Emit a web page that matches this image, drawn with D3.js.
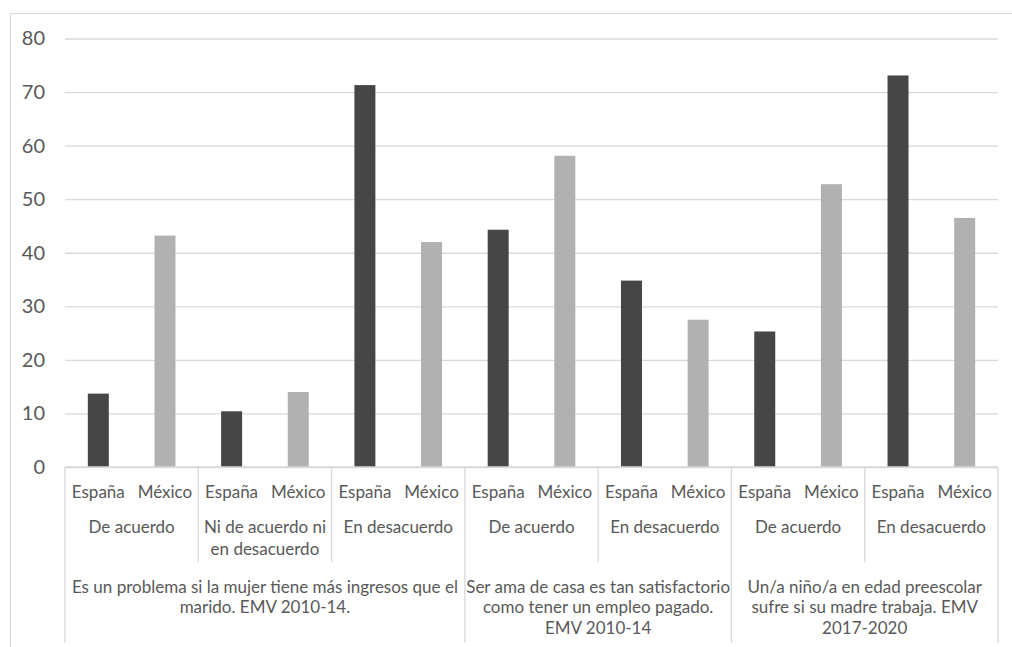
<!DOCTYPE html>
<html>
<head>
<meta charset="utf-8">
<script src="https://cdn.jsdelivr.net/npm/d3@7"></script>
<style>
  body { margin: 0; background: #fff; }
  text { font-family: Lato, "Open Sans", sans-serif; fill: #595959; }
</style>
</head>
<body>
<div id="plot"></div>
<script>
// data
const countries = ["España", "México"];
const responses = ["De acuerdo", "Ni de acuerdo ni\nen desacuerdo", "En desacuerdo",
                   "De acuerdo", "En desacuerdo", "De acuerdo", "En desacuerdo"];
const questions = ["Es un problema si la mujer tiene más ingresos que el\nmarido. EMV 2010-14.",
                   "Ser ama de casa es tan satisfactorio\ncomo tener un empleo pagado.\nEMV 2010-14",
                   "Un/a niño/a en edad preescolar\nsufre si su madre trabaja. EMV\n2017-2020"];
const questionOf = [0, 0, 0, 1, 1, 2, 2];
const espana = [13.7, 10.4, 71.3, 44.3, 34.8, 25.3, 73.1];
const mexico = [43.2, 14.0, 42.0, 58.1, 27.5, 52.8, 46.5];
const yTicks = [0, 10, 20, 30, 40, 50, 60, 70, 80];

const colors = ["#464646", "#b1b1b1"];
const labelSize = "17px";

const svg = d3.select("div#plot")
              .append("svg")
              .attr("width", 1012)
              .attr("height", 647);

// chart border
svg.append("rect")
   .attr("x", 10.5)
   .attr("y", 13.5)
   .attr("width", 1010)
   .attr("height", 650)
   .attr("fill", "none")
   .attr("stroke", "#d9d9d9");

const plotLeft = 65, plotRight = 998, plotTop = 38.5, plotBottom = 467;

const yScale = d3.scaleLinear().domain([0, 80]).range([plotBottom, plotTop]);
const xGroup = d3.scaleBand().domain(d3.range(responses.length)).range([plotLeft, plotRight]);
const xCountry = d3.scaleBand().domain(countries)
                   .range([0, xGroup.bandwidth()])
                   .paddingInner(0.685).paddingOuter(0.3425);

// y axis with gridlines
const yAxis = d3.axisLeft(yScale)
                .tickValues(yTicks)
                .tickSize(-(plotRight - plotLeft))
                .tickPadding(20);
const gy = svg.append("g")
              .attr("transform", "translate(" + plotLeft + ",0)")
              .call(yAxis);
gy.select(".domain").remove();
gy.selectAll(".tick line").attr("stroke", "#d9d9d9").attr("stroke-width", 1.3);
gy.selectAll(".tick text")
  .attr("font-size", "20px")
  .attr("font-family", "Lato, sans-serif")
  .attr("fill", "#595959");

// bars
const rows = [];
responses.forEach((r, i) => {
  rows.push({ g: i, c: countries[0], v: espana[i] });
  rows.push({ g: i, c: countries[1], v: mexico[i] });
});
svg.selectAll("rect.bar")
   .data(rows)
   .enter()
   .append("rect")
   .attr("class", "bar")
   .attr("x", d => xGroup(d.g) + xCountry(d.c))
   .attr("y", d => yScale(d.v))
   .attr("width", xCountry.bandwidth())
   .attr("height", d => yScale(0) - yScale(d.v))
   .attr("fill", d => colors[countries.indexOf(d.c)]);

// category axis line
svg.append("line")
   .attr("x1", plotLeft).attr("x2", plotRight)
   .attr("y1", plotBottom).attr("y2", plotBottom)
   .attr("stroke", "#d9d9d9").attr("stroke-width", 1.3);

// separators: full height at question boundaries, shorter between responses
const bounds = d3.range(responses.length + 1);
svg.selectAll("line.sep")
   .data(bounds)
   .enter()
   .append("line")
   .attr("class", "sep")
   .attr("x1", i => i < responses.length ? xGroup(i) : plotRight)
   .attr("x2", i => i < responses.length ? xGroup(i) : plotRight)
   .attr("y1", plotBottom)
   .attr("y2", i => (i === 0 || i === responses.length || questionOf[i] !== questionOf[i - 1]) ? 643 : 562)
   .attr("stroke", "#d9d9d9").attr("stroke-width", 1.3);

// country labels
svg.selectAll("text.country")
   .data(rows)
   .enter()
   .append("text")
   .attr("class", "country")
   .attr("x", d => xGroup(d.g) + xCountry(d.c) + xCountry.bandwidth() / 2)
   .attr("y", 492)
   .attr("dy", "0.35em")
   .attr("text-anchor", "middle")
   .attr("font-size", labelSize)
   .text(d => d.c);

// response labels
responses.forEach((r, i) => {
  const t = svg.append("text")
               .attr("text-anchor", "middle")
               .attr("font-size", labelSize);
  r.split("\n").forEach((line, k) => {
    t.append("tspan")
     .attr("x", xGroup(i) + xGroup.bandwidth() / 2)
     .attr("y", 527 + k * 22)
     .attr("dy", "0.35em")
     .text(line);
  });
});

// question labels
questions.forEach((q, j) => {
  const idx = d3.range(responses.length).filter(i => questionOf[i] === j);
  const x0 = xGroup(idx[0]);
  const x1 = xGroup(idx[idx.length - 1]) + xGroup.bandwidth();
  const t = svg.append("text")
               .attr("text-anchor", "middle")
               .attr("font-size", labelSize);
  q.split("\n").forEach((line, k) => {
    t.append("tspan")
     .attr("x", (x0 + x1) / 2)
     .attr("y", 587 + k * 20.5)
     .attr("dy", "0.35em")
     .text(line);
  });
});
</script>
</body>
</html>
